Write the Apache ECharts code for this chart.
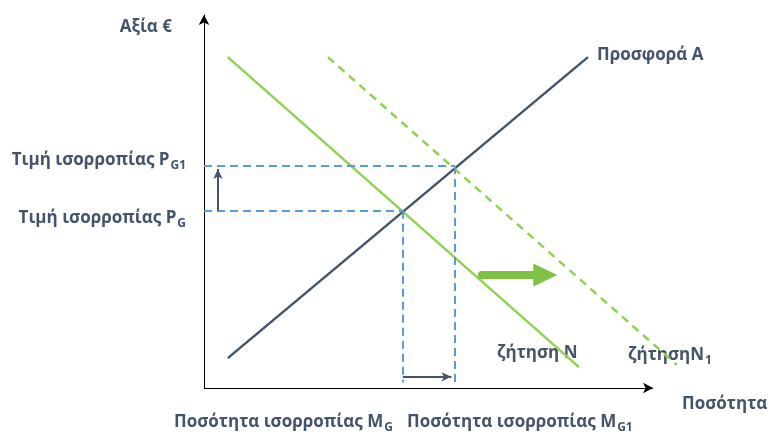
<!DOCTYPE html>
<html><head><meta charset="utf-8">
<script src="https://cdn.jsdelivr.net/npm/echarts@6/dist/echarts.min.js"></script>
<style>html,body{margin:0;padding:0;background:#fff}#c{width:769px;height:432px}</style>
</head><body><div id="c"></div>
<script>
// Values (axis units 0..10)
const supplyX = [0.53, 8.55];
const supplyY = [0.80, 8.87];
const demandX = [0.53, 8.35];
const demandY = [8.87, 0.56];
const demand1X = [2.76, 10.53];
const demand1Y = [8.87, 0.62];
const eqQ = [4.43, 5.59];     // equilibrium quantities M_G, M_G1
const eqP = [4.75, 5.95];     // equilibrium prices P_G, P_G1
const shiftArrowX = [6.19, 7.6];
const shiftArrowY = 3.03;
const priceArrowX = 0.31;
const qtyArrowY = 0.30;
const dropEndY = 0.15;
const axisEndX = 10;

const TXT = '#44546a', GREEN = '#92d050', BLUE = '#5b9bd5', SUP = '#44546a';
const FONT = 'Open Sans';
const FS = 17;

const pair = (xs, ys) => xs.map((x, i) => [x, ys[i]]);
const chart = echarts.init(document.getElementById('c'), null, {renderer: 'canvas'});

const dashedBlue = {color: BLUE, width: 2, type: [8, 5]};
function ml(data, lineStyle, symbol, symbolSize) {
  return {
    silent: true, symbol: symbol || ['none', 'none'], symbolSize: symbolSize || 10,
    label: {show: false}, lineStyle: lineStyle, emphasis: {disabled: true},
    data: data
  };
}

const option = {
  animation: false,
  grid: {left: 204, right: 89, top: 15, bottom: 44},
  xAxis: {type: 'value', min: 0, max: 10.6, splitLine: {show: false}, axisTick: {show: false}, axisLabel: {show: false},
    axisLine: {show: false}},
  yAxis: {type: 'value', min: 0, max: 10, splitLine: {show: false}, axisTick: {show: false}, axisLabel: {show: false},
    axisLine: {show: true, symbol: ['none', 'arrow'], symbolSize: [8, 10], lineStyle: {color: '#000', width: 1}}},
  series: [
    {type: 'line', name: 'xaxis', data: [], clip: false,
      markLine: ml([[{coord: [0, 0]}, {coord: [axisEndX, 0]}]],
        {color: '#000', width: 1, type: 'solid'}, ['none', 'arrow'], [8, 10])},
    {type: 'line', name: 'guides', data: [], clip: false,
      markLine: ml([
        [{coord: [0, eqP[0]]}, {coord: [eqQ[0], eqP[0]]}],
        [{coord: [0, eqP[1]]}, {coord: [eqQ[1], eqP[1]]}],
        [{coord: [eqQ[0], eqP[0]]}, {coord: [eqQ[0], dropEndY]}],
        [{coord: [eqQ[1], eqP[1]]}, {coord: [eqQ[1], dropEndY]}]
      ], dashedBlue)},
    {type: 'line', name: 'Demand N1', data: pair(demand1X, demand1Y), clip: false, symbol: 'none',
      lineStyle: {color: GREEN, width: 2.5, type: [8, 6]}},
    {type: 'line', name: 'Demand N', data: pair(demandX, demandY), clip: false, symbol: 'none',
      lineStyle: {color: GREEN, width: 2.5}},
    {type: 'line', name: 'Supply', data: pair(supplyX, supplyY), clip: false, symbol: 'none',
      lineStyle: {color: SUP, width: 2.5}},
    {type: 'line', name: 'arrows', data: [], clip: false,
      markLine: ml([
        [{coord: [priceArrowX, eqP[0]]}, {coord: [priceArrowX, eqP[1] - 0.08]}],
        [{coord: [eqQ[0], qtyArrowY]}, {coord: [eqQ[1] - 0.08, qtyArrowY]}]
      ], {color: SUP, width: 2, type: 'solid'}, ['none', 'arrow'], [7, 10])},
    {type: 'line', name: 'shift', data: [], clip: false,
      markLine: ml([
        [{coord: [shiftArrowX[0], shiftArrowY]}, {coord: [shiftArrowX[1], shiftArrowY]}]
      ], {color: '#7dc242', width: 8, type: 'solid', cap: 'round'}, ['none', 'triangle'], [23, 24])}
  ]
};
chart.setOption(option);

const base = {fontFamily: FONT, fontWeight: 'bold', fontSize: FS, fill: TXT};
const rich = {
  m: {fontFamily: FONT, fontWeight: 'bold', fontSize: FS, color: TXT, lineHeight: 22, verticalAlign: 'bottom'},
  s: {fontFamily: FONT, fontWeight: 'bold', fontSize: 12, color: TXT, lineHeight: 22, verticalAlign: 'bottom', padding: [0, 0, -3, 1]}
};
function txt(x, y, text, align, useRich) {
  const st = Object.assign({}, base, {x: x, y: y, text: text, align: align || 'left', verticalAlign: 'middle'});
  if (useRich) st.rich = rich;
  return {type: 'text', silent: true, style: st};
}
chart.setOption({graphic: [
  txt(172, 27, 'Αξία €', 'right'),
  txt(186, 158, '{m|Τιμή ισορροπίας P}{s|G1}', 'right', true),
  txt(186, 216, '{m|Τιμή ισορροπίας P}{s|G}', 'right', true),
  txt(597, 55, 'Προσφορά Α'),
  txt(497, 353, 'ζήτηση N'),
  txt(628, 353, '{m|ζήτησηN}{s|1}', 'left', true),
  txt(174, 420, '{m|Ποσότητα ισορροπίας M}{s|G}', 'left', true),
  txt(407, 420, '{m|Ποσότητα ισορροπίας M}{s|G1}', 'left', true),
  txt(682, 404, 'Ποσότητα')
]});
</script></body></html>
